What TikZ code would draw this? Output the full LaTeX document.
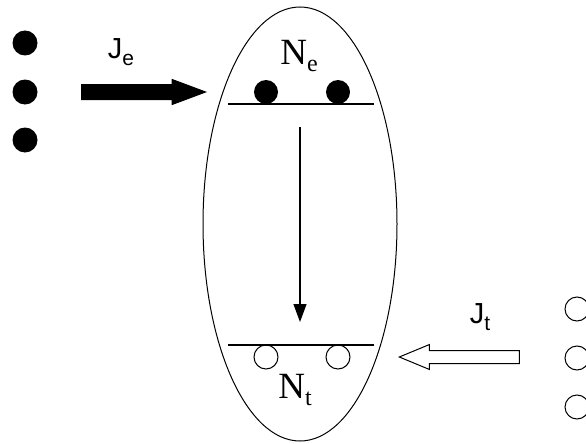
\documentclass[tikz,border=0pt]{standalone}
\usepackage{fontspec}
\setmainfont{Liberation Serif}
\setsansfont{Liberation Sans}
\usetikzlibrary{shapes.geometric, shapes.arrows, arrows.meta}

\newcommand{\Jlabel}[1]{\sffamily\fontsize{29pt}{29pt}\selectfont J\raisebox{-7pt}{\fontsize{21pt}{21pt}\selectfont #1}}
\newcommand{\Nlabel}[1]{\fontsize{37pt}{37pt}\selectfont N\raisebox{-7pt}{\fontsize{24pt}{24pt}\selectfont #1}}

\begin{document}
\begin{tikzpicture}[
    x=1pt, y=-1pt,
    full_dot/.style={circle, fill=black, minimum size=25pt, inner sep=0pt},
    empty_dot/.style={circle, draw, line width=1pt, minimum size=24pt, inner sep=0pt},
    level_line/.style={line width=1.3pt},
    flux_arrow/.style={single arrow, draw, line width=1pt, inner xsep=0pt, minimum width=25pt, anchor=tip},
    directed/.style={-{Triangle[length=18pt, width=13pt]}, line width=1.2pt}
]
    \useasboundingbox (0,0) rectangle (586,444);
    \clip (0,0) rectangle (586,444);

    % the cell
    \node[ellipse, draw, line width=1pt, minimum width=194pt, minimum height=434pt, inner sep=0pt] (cell) at (300,224) {};

    % reservoirs
    \node[full_dot] (e1) at (25,43) {};
    \node[full_dot] (e2) at (25,92) {};
    \node[full_dot] (e3) at (25,140) {};
    \node[empty_dot] (t1) at (577,309) {};
    \node[empty_dot] (t2) at (577,358) {};
    \node[empty_dot] (t3) at (577,407) {};

    % levels
    \draw[level_line] (228,104) -- (374,104);
    \draw[level_line] (228,345) -- (374,345);
    \node[full_dot, minimum size=24pt] (ne1) at (266,92) {};
    \node[full_dot, minimum size=24pt] (ne2) at (338,92) {};
    \node[empty_dot] (nt1) at (266,357) {};
    \node[empty_dot] (nt2) at (338,357) {};

    \node (Ne) at (299,56) {\Nlabel{e}};
    \node (Nt) at (295,390) {\Nlabel{t}};

    % fluxes
    \node[flux_arrow, fill=black, inner ysep=7pt, minimum height=124pt, single arrow head extend=5pt, single arrow tip angle=41] (Jearrow) at (207,92) {};
    \node[flux_arrow, inner ysep=6pt, minimum height=120pt, single arrow head extend=6pt, single arrow tip angle=45, shape border rotate=180] (Jtarrow) at (398,357) {};
    \node (Je) at (121,52) {\Jlabel{e}};
    \node (Jt) at (480,317) {\Jlabel{t}};

    % transfer
    \coordinate (drop_start) at (300,127);
    \coordinate (drop_end) at (300,322);
    \draw[directed] (drop_start) -- (drop_end);
\end{tikzpicture}
\end{document}
